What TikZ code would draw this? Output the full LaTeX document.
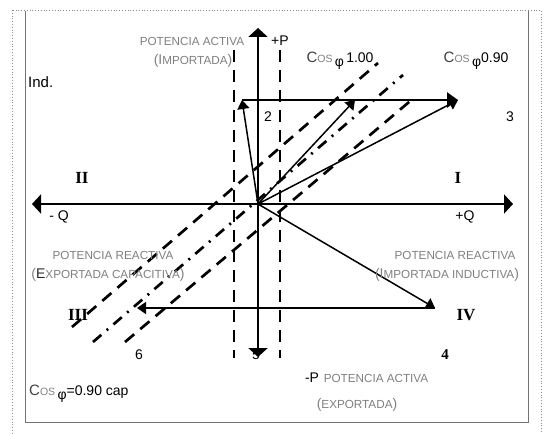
\documentclass[tikz,border=0pt]{standalone}
\usepackage{fontspec}
\setmainfont{Liberation Sans}
\newfontfamily\romanfont{Liberation Serif}
\usetikzlibrary{arrows.meta}

\newcommand{\cosphi}{{\color{black!75}\fontsize{15}{15}\selectfont C}{\color{black!50}\fontsize{10.5}{10.5}\selectfont OS}\,\raisebox{-4pt}{\fontsize{14}{14}\selectfont φ}}
\newcommand{\bigch}[1]{{\fontsize{14}{14}\selectfont #1}}

\begin{document}
\begin{tikzpicture}[x=1pt,y=-1pt,font=\fontsize{14}{14}\selectfont,
    axis/.style={line width=2.8pt,-{Triangle[length=9pt,width=19pt]}},
    vec/.style={line width=1.5pt,-{Triangle[length=9pt,width=12pt]}},
    guide/.style={line width=2.7pt,dash pattern=on 12pt off 8pt},
    guidedot/.style={line width=2.7pt,dash pattern=on 11pt off 7pt on 2pt off 7pt},
    greytext/.style={text=black!50,font=\fontsize{11.7}{12}\selectfont,inner sep=0pt},
    quadrant/.style={font=\romanfont\bfseries\fontsize{17}{17}\selectfont}]

\useasboundingbox (0,0) rectangle (545,433);

% frame
\draw[black!45,dotted,line width=0.8pt] (12,10) rectangle (541,445);

\draw[black!55,line width=0.7pt] (25,11) -- (25,422) -- (528,422) -- (528,11);

% points of the diagram
\coordinate (O) at (258,204);
\coordinate (Pup) at (258,28);
\coordinate (Pdown) at (258,357);
\coordinate (Qleft) at (32,204);
\coordinate (Qright) at (513,204);

\coordinate (V2) at (242,100);
\coordinate (V1) at (355,100);
\coordinate (V3) at (458,100);
\coordinate (V4) at (435,308);
\coordinate (V6) at (137,308);

% limits of the active power
\coordinate (La) at (234,50);
\coordinate (Lb) at (234,358);
\coordinate (Ra) at (280,50);
\coordinate (Rb) at (280,358);

\draw[guide] (La) -- (Lb);

\draw[guide] (Ra) -- (Rb);

% lines of constant power factor
\coordinate (D1a) at (72,327);
\coordinate (D1b) at (378,63);
\coordinate (D2a) at (93,342);
\coordinate (D2b) at (403,75);
\coordinate (D3a) at (125,342);
\coordinate (D3b) at (415,97);

\draw[guide] (D1a) -- (D1b);

\draw[guidedot] (D2a) -- (D2b);

\draw[guide] (D3a) -- (D3b);

% numbers of the operating points
\node (n2) at (268,117) {2};
\node (n3) at (510,117) {3};
\node (n6) at (139,355) {6};
\node (n5) at (256,355) {5};
\node[font=\romanfont\bfseries\fontsize{15}{15}\selectfont] (n4) at (445,355) {4};

% axes
\draw[axis] (O) -- (Pup);

\draw[axis] (O) -- (Pdown);

\draw[axis] (O) -- (Qleft);

\draw[axis] (O) -- (Qright);

% vectors
\draw[line width=2.6pt,-{Triangle[length=11pt,width=15pt]}] (V2) -- (V3);

\draw[vec] (O) -- (V2);

\draw[vec] (O) -- (V1);

\draw[vec] (O) -- (V3);

\draw[vec] (O) -- (V4);

\draw[vec] (V4) -- (V6);

% axis names
\node (pplus) at (280,41) {+P};
\node (qminus) at (59,217) {- Q};
\node (qplus) at (465,217) {+Q};
\node (pminus) at (312,378) {-P};

% quadrants
\node[quadrant] (qI) at (458,178) {I};
\node[quadrant] (qII) at (82,178) {II};
\node[quadrant] (qIII) at (78,315) {III};
\node[quadrant] (qIV) at (466,315) {IV};

% power descriptions
\node[greytext] (actUp) at (192,41) {POTENCIA ACTIVA};
\node[greytext] (impUp) at (193,61) {\bigch{(I}MPORTADA\bigch{)}};

\node[greytext] (reacL) at (113,255) {POTENCIA REACTIVA};
\node[greytext] (expL) at (108,275) {\bigch{(}{\color{black!85}\bigch{E}}XPORTADA CAPACITIVA\bigch{)}};

\node[greytext] (reacR) at (455,255) {POTENCIA REACTIVA};
\node[greytext] (impR) at (447,275) {\bigch{(I}MPORTADA INDUCTIVA\bigch{)}};

\node[greytext] (actDown) at (376,378) {POTENCIA ACTIVA};
\node[greytext] (expDown) at (357,405) {\bigch{(}EXPORTADA\bigch{)}};

% power factors
\node (cos1) at (340,61) {\cosphi\,1.00};
\node (cos2) at (476,61) {\cosphi0.90};
\node[anchor=west,inner sep=0pt] (cos3) at (29,394) {\cosphi=0.90 cap};
\node[anchor=west,inner sep=0pt,font=\fontsize{15}{15}\selectfont] (ind) at (28,82) {Ind.};

\end{tikzpicture}
\end{document}
